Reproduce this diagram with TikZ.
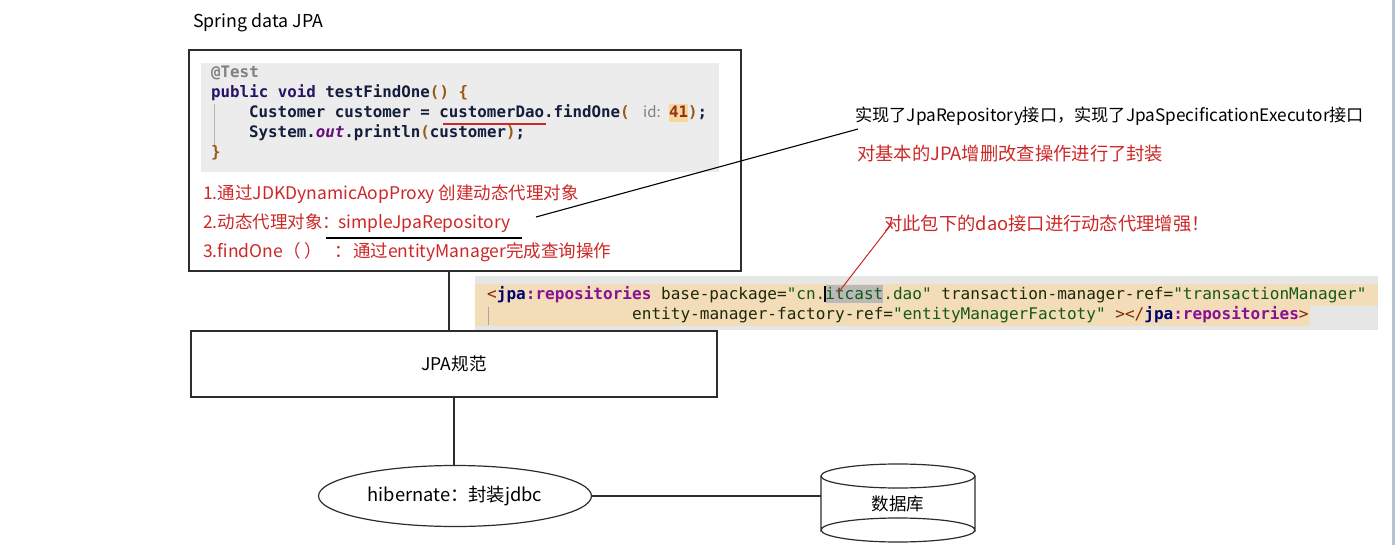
\documentclass[tikz,border=0pt]{standalone}
\usepackage{fontspec}
\setmainfont{Noto Sans CJK SC}
\newfontfamily\mono{DejaVu Sans Mono}
\usetikzlibrary{shapes.geometric}
\definecolor{redtxt}{RGB}{205,40,40}
\definecolor{boxline}{RGB}{45,45,45}
\definecolor{codebg}{RGB}{236,236,236}
\definecolor{kw}{RGB}{40,20,100}
\definecolor{codedark}{RGB}{20,30,60}
\definecolor{anno}{RGB}{128,128,128}
\definecolor{paren}{RGB}{150,90,20}
\definecolor{outc}{RGB}{102,14,122}
\definecolor{numc}{RGB}{150,50,20}
\definecolor{numbg}{RGB}{247,215,160}
\definecolor{xmlbg}{RGB}{243,220,184}
\definecolor{xmlgray}{RGB}{230,230,230}
\definecolor{tagbr}{RGB}{130,40,0}
\definecolor{tagns}{RGB}{0,0,110}
\definecolor{tagname}{RGB}{135,16,148}
\definecolor{attrc}{RGB}{30,40,10}
\definecolor{valc}{RGB}{20,90,20}
\definecolor{selc}{RGB}{185,185,185}
\definecolor{border}{RGB}{180,195,210}
\begin{document}
\begin{tikzpicture}[x=1pt,y=-1pt,
  txt/.style={inner sep=0pt, anchor=base west, font=\fontsize{17.2}{20}\selectfont},
  redt/.style={txt, text=redtxt, font=\fontsize{17.5}{20}\selectfont},
  rednote/.style={txt, text=redtxt, font=\fontsize{18.3}{21}\selectfont},
  jcode/.style={inner sep=0pt, anchor=base west, font=\mono\bfseries\fontsize{15.8}{19}\selectfont, text=codedark},
  xcode/.style={inner sep=0pt, anchor=base west, font=\mono\fontsize{16.05}{19}\selectfont, text=attrc},
  frame/.style={draw=boxline, line width=1.2pt, inner sep=0pt}]
\useasboundingbox (0,0) rectangle (1399,545);
\fill[white] (0,0) rectangle (1399,545);

% title
\node[txt, font=\fontsize{17.8}{20}\selectfont] (title) at (193,28) {Spring data JPA};

% outer box
\node[frame, line width=1.6pt, minimum width=552, minimum height=221] (outer) at (465,160.5) {};

% java code
\fill[codebg] (201,63) rectangle (719,172);
\draw[anno!60, line width=0.6pt] (214,104) -- (214,146);
\node[jcode, text=anno] (j1) at (211,78) {@Test};
\node[jcode] (j2) at (211,98) {\textcolor{kw}{public void} testFindOne\textcolor{paren}{()} \textcolor{paren}{\{}};
\node[jcode] (j3) at (249,118) {Customer customer = customerDao.findOne\textcolor{paren}{(}};
\node[inner sep=0pt, anchor=base west, font=\fontsize{15}{18}\selectfont, text=anno] (j3h) at (643,118) {id:};
\fill[numbg] (669,104) rectangle (688,122);
\node[jcode, text=numc] (j3n) at (669,118) {41};
\node[jcode] (j3e) at (688,118) {\textcolor{paren}{)};};
\draw[redtxt, line width=1.3pt] (443,124) -- (546,124);
\node[jcode] (j4) at (249,138) {System.\textcolor{outc}{\itshape out}.println\textcolor{paren}{(}customer\textcolor{paren}{)};};
\node[jcode, text=paren] (j5) at (211,158) {\}};

% red notes in box
\node[redt] (r1) at (203,200) {1.通过JDKDynamicAopProxy 创建动态代理对象};
\node[redt] (r2) at (203,229) {2.动态代理对象：};
\node[redt] (r2b) at (338,229) {simpleJpaRepository};
\draw[black, line width=1.1pt] (326,238) -- (522,238);
\node[redt] (r3) at (203,258) {3.findOne（ ）};
\node[redt] (r3b) at (334,258) {：};
\node[redt] (r3c) at (353,258) {通过entityManager完成查询操作};

% right annotations
\node[txt] (impl) at (855,122) {实现了JpaRepository接口，实现了JpaSpecificationExecutor接口};
\node[rednote] (note1) at (857,161) {对基本的JPA增删改查操作进行了封装};
\node[rednote] (note2) at (884,231) {对此包下的dao接口进行动态代理增强！};

\coordinate (la) at (536,217);
\coordinate (lb) at (858,129);
\draw[black, line width=1.1pt] (la) -- (lb);

% xml snippet
\fill[xmlgray] (475,276) rectangle (1378,330);
\fill[xmlbg] (475,284) rectangle (1378,306);
\fill[xmlbg] (475,306) rectangle (1310,326);
\draw[anno!70, line width=0.6pt] (488,307) -- (488,325);
\fill[selc] (826,285) rectangle (883,303);
\node[xcode] (x1) at (487,299) {\textcolor{tagbr}{<}\textbf{\textcolor{tagns}{jpa}\textcolor{tagname}{:repositories}} base-package=\textcolor{valc}{"cn.itcast.dao"} transaction-manager-ref=\textcolor{valc}{"transactionManager"}};
\node[xcode] (x2) at (632,319) {entity-manager-factory-ref=\textcolor{valc}{"entityManagerFactoty"} \textcolor{tagbr}{></}\textbf{\textcolor{tagns}{jpa}\textcolor{tagname}{:repositories}}\textcolor{tagbr}{>}};
\draw[black, line width=1.2pt] (825,286) -- (825,302);

\coordinate (ra) at (893,222);
\coordinate (rb) at (838,293);
\draw[redtxt, line width=1pt] (ra) -- (rb);

% JPA box
\node[frame, minimum width=526, minimum height=66, font=\fontsize{17.5}{20}\selectfont] (jpa) at (454,364) {JPA规范};
\draw[boxline, line width=1.2pt] ([xshift=-5pt]jpa.north) -- ([xshift=-5pt]jpa.north |- outer.south);

% hibernate ellipse
\node[ellipse, frame, minimum width=273, minimum height=61, font=\fontsize{18.3}{21}\selectfont] (hib) at (455,496) {hibernate：封装jdbc};
\draw[boxline, line width=1.2pt] (jpa.south) -- (hib.north -| jpa.south);

% database cylinder
\node[inner sep=0pt, minimum width=154, minimum height=78, font=\fontsize{17.5}{20}\selectfont] (db) at (898,504) {\raisebox{-3pt}{数据库}};
\draw[boxline, line width=1.2pt] (821,476) -- (821,530) arc[start angle=180, end angle=360, x radius=77, y radius=12] -- (975,476);
\draw[boxline, line width=1.2pt] (898,476) ellipse[x radius=77, y radius=12];
\draw[boxline, line width=1.2pt] (821,530) arc[start angle=180, end angle=0, x radius=77, y radius=12];
\draw[boxline, line width=1.2pt] (hib.east) -- (hib.east -| db.west);

% window border
\draw[border, line width=3pt] (1393,0) -- (1393,545);
\end{tikzpicture}
\end{document}
